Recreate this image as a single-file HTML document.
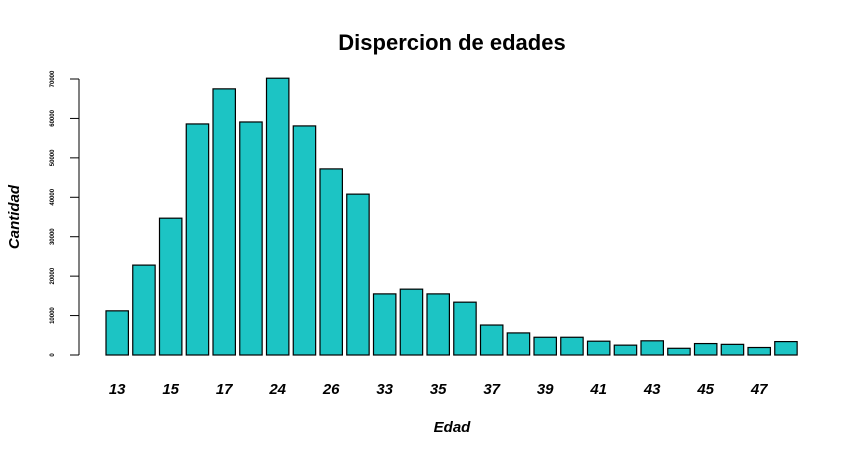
<!DOCTYPE html>
<html><head><meta charset="utf-8"><style>
body{margin:0;background:#fff;}
svg text{font-family:"Liberation Sans",Arial,sans-serif;}
</style></head><body>
<svg id="chart" width="866" height="456" xmlns="http://www.w3.org/2000/svg">
<text x="452" y="50" text-anchor="middle" font-size="22" font-weight="bold">Dispercion de edades</text>
<text transform="translate(19,217) rotate(-90)" text-anchor="middle" font-size="15" font-weight="bold" font-style="italic">Cantidad</text>
<text x="452" y="432" text-anchor="middle" font-size="15" font-weight="bold" font-style="italic">Edad</text>
<g id="yaxis"></g>
<g id="bars"></g>
<g id="xlabels"></g>
</svg>
<script>
const categories = ["13","14","15","16","17","18","24","25","26","27","33","34","35","36","37","38","39","40","41","42","43","44","45","46","47","48"];
const counts = [11200,22800,34700,58600,67500,59100,70200,58100,47200,40800,15500,16700,15500,13400,7600,5600,4500,4500,3500,2500,3600,1700,2900,2700,1900,3400];
const yTicks = [0,10000,20000,30000,40000,50000,60000,70000];
const NS="http://www.w3.org/2000/svg";
const y0=355, yTop=79, yMax=70000;
function yScale(v){return y0-(v/yMax)*(y0-yTop);}
const left=106, period=26.75, bw=22.4;
function xScale(i){return left+i*period;}
function mk(tag,attrs,parent){const e=document.createElementNS(NS,tag);for(const k in attrs)e.setAttribute(k,attrs[k]);parent.appendChild(e);return e;}
const ya=document.getElementById('yaxis');
const axl=mk('line',{x1:79,x2:79,y1:yScale(0),y2:yScale(yTicks[yTicks.length-1]),stroke:'#000'},ya);


yTicks.forEach(t=>{
  const y=yScale(t);
  const tk=mk('line',{x1:70,x2:79,y1:y,y2:y,stroke:'#000'},ya);
  
  
  const tx=mk('text',{transform:`translate(54,${y}) rotate(-90)`,'text-anchor':'middle','font-size':'6','font-weight':'bold'},ya);
  tx.textContent=t;
  
  
});
const bg=document.getElementById('bars'), xl=document.getElementById('xlabels');
counts.forEach((v,i)=>{
  const x=xScale(i), y=yScale(v);
  const r=mk('rect',{x:x,y:y,width:bw,height:y0-y,fill:'#1cc4c4',stroke:'#000','stroke-width':1.2},bg);
  
  
  if(i%2===0 && i<counts.length-1){
    const t=mk('text',{x:x+bw/2,y:394,'text-anchor':'middle','font-size':'15','font-weight':'bold','font-style':'italic'},xl);
    t.textContent=categories[i];
    
    
  }
});
</script>
</body></html>
